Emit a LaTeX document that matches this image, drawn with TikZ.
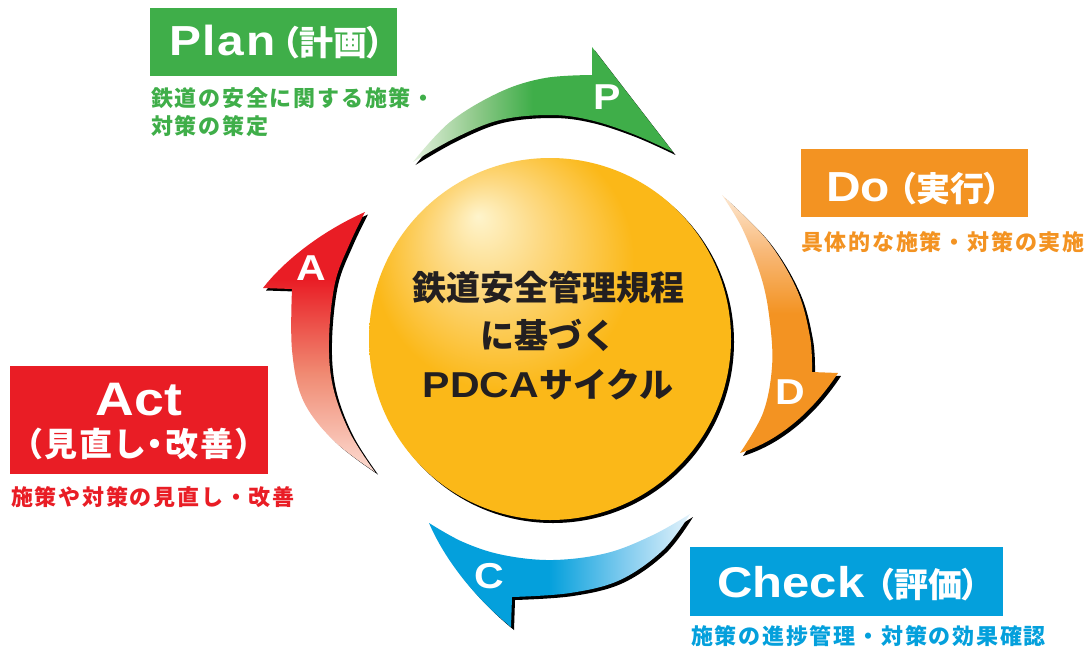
\documentclass[tikz,border=0pt]{standalone}
\usepackage{fontspec}
\newfontfamily\jp{Noto Sans CJK JP}
\newfontfamily\jpp{Noto Sans CJK JP}[RawFeature=+palt]
\newfontfamily\jpls{Noto Sans CJK JP}[LetterSpace=8]
\newfontfamily\lat{Liberation Sans}[FakeStretch=1.14]
\definecolor{pgreen}{HTML}{3FAE49}
\definecolor{porange}{HTML}{F39322}
\definecolor{pred}{HTML}{E91D25}
\definecolor{pblue}{HTML}{04A0DC}
\definecolor{ball}{HTML}{FBB818}
\definecolor{ballhl}{HTML}{FEF4CC}
\definecolor{ballmid}{HTML}{FDDA85}
\definecolor{gl}{HTML}{E4F1DE}
\definecolor{gm}{HTML}{8FC98A}
\definecolor{ol}{HTML}{FDE8D2}
\definecolor{om}{HTML}{F8B877}
\definecolor{bl}{HTML}{E3F2FB}
\definecolor{bm}{HTML}{7DCAEE}
\definecolor{rl}{HTML}{FCDCD2}
\definecolor{rm}{HTML}{F08A72}
\definecolor{dark}{HTML}{231F20}
\pgfdeclarehorizontalshading{gshade}{100bp}{color(0bp)=(gl); color(25bp)=(gl); color(37bp)=(gm); color(48bp)=(pgreen); color(100bp)=(pgreen)}
\pgfdeclareverticalshading{oshade}{100bp}{color(0bp)=(porange); color(52bp)=(porange); color(64bp)=(om); color(75bp)=(ol); color(100bp)=(ol)}
\pgfdeclarehorizontalshading{bshade}{100bp}{color(0bp)=(pblue); color(48bp)=(pblue); color(62bp)=(bm); color(75bp)=(bl); color(100bp)=(bl)}
\pgfdeclareverticalshading{rshade}{100bp}{color(0bp)=(rl); color(25bp)=(rl); color(44bp)=(rm); color(62bp)=(pred); color(100bp)=(pred)}
\pgfdeclareradialshading{ballshade}{\pgfpoint{-10bp}{17bp}}{color(0bp)=(ballhl); color(7bp)=(ballmid); color(18bp)=(ball); color(50bp)=(ball)}
\tikzset{
  greenarrow/.pic={\path[pic actions] (413,162) -- plot[smooth,tension=0.6] coordinates {(413,162) (450,122) (500,92) (545,78) (592,75)} -- (592,47) -- (673,152) -- plot[smooth,tension=0.6] coordinates {(673,152) (633,134) (590,120) (550,115) (500,120) (455,138) (413,162)} -- cycle;},
  orangearrow/.pic={\path[pic actions] (722,195) -- plot[smooth,tension=0.6] coordinates {(722,195) (767,240) (797,290) (810,337) (812,372)} -- (838,373) .. controls (815,408) and (782,440) .. (740,453) -- plot[smooth,tension=0.6] coordinates {(740,453) (763,413) (772,367) (770,323) (762,280) (743,230) (722,195)} -- cycle;},
  bluearrow/.pic={\path[pic actions] (690,514) -- plot[smooth,tension=0.6] coordinates {(690,514) (653,535) (607,553) (553,560) (503,555) (463,542) (429,523)} .. controls (445,560) and (475,598) .. (511,627) -- (512,597) -- plot[smooth,tension=0.6] coordinates {(512,597) (570,593) (620,580) (663,550) (690,514)} -- cycle;},
  redarrow/.pic={\path[pic actions] (375,472) -- plot[smooth,tension=0.6] coordinates {(375,472) (350,433) (333,387) (329,340) (335,283) (350,243) (365,212)} .. controls (320,232) and (283,262) .. (263,288) -- (292,289) -- plot[smooth,tension=0.6] coordinates {(292,289) (292,350) (303,400) (333,440) (375,472)} -- cycle;},
  box/.style={draw=none, inner sep=0pt, anchor=north west},
  letter/.style={text=white, inner sep=0pt, font=\lat\bfseries\fontsize{36}{36}\selectfont},
  ttl/.style={text=white, inner sep=0pt, anchor=base west},
  jttl/.style={text=white, inner sep=0pt, anchor=base west, font=\jpp\bfseries\fontsize{34}{34}\selectfont},
  sub/.style={inner sep=0pt, anchor=base west, font=\jpls\bfseries\fontsize{22}{22}\selectfont},
  ctr/.style={inner sep=0pt, anchor=base, text=dark}
}
\begin{document}
\begin{tikzpicture}[x=1pt,y=-1pt]
\useasboundingbox[fill=white] (0,0) rectangle (1091,651);
% arrows: shadows then fills
\pic[fill=black] at (2.5,3) {greenarrow};
\pic[shade, shading=gshade] at (0,0) {greenarrow};
\pic[fill=black] at (3,3) {orangearrow};
\pic[shade, shading=oshade] at (0,0) {orangearrow};
\pic[fill=black] at (3,3) {bluearrow};
\pic[shade, shading=bshade] at (0,0) {bluearrow};
\pic[fill=black] at (3,2.5) {redarrow};
\pic[shade, shading=rshade] at (0,0) {redarrow};
% ball
\node[circle, fill=black, minimum size=362, inner sep=0pt] (ballshadow) at (553,342) {};
\node[circle, shade, shading=ballshade, minimum size=362, inner sep=0pt] (ball) at (550,339) {};
% letters
\node[letter] (lp) at (607,97) {P};
\node[letter] (ld) at (790,392) {D};
\node[letter] (lc) at (489,576) {C};
\node[letter] (la) at (311,268) {A};
% center text
\node[ctr, font=\jp\bfseries\fontsize{34}{34}\selectfont] (c1) at (548,300) {鉄道安全管理規程};
\node[ctr, font=\jp\bfseries\fontsize{34}{34}\selectfont] (c2) at (548,348) {に基づく};
\node[ctr] (c3) at (548,397) {{\lat\bfseries\fontsize{36}{36}\selectfont PDCA}{\jp\bfseries\fontsize{34}{34}\selectfont サイクル}};
% boxes
\node[box, fill=pgreen, minimum width=247, minimum height=68] (planbox) at (150,8) {};
\node[box, fill=porange, minimum width=227, minimum height=68] (dobox) at (801,149) {};
\node[box, fill=pblue, minimum width=313, minimum height=69] (checkbox) at (690,547) {};
\node[box, fill=pred, minimum width=258, minimum height=108] (actbox) at (10,366) {};
% titles
\node[ttl] (plant) at (169,55) {\lat\bfseries\fontsize{42}{42}\selectfont\addfontfeature{LetterSpace=4}Plan};
\node[jttl] (plantj) at (282,55) {（計画）};
\node[ttl] (dot) at (826,201) {\lat\bfseries\fontsize{42}{42}\selectfont Do};
\node[jttl] (dotj) at (899,201) {（実行）};
\node[ttl] (checkt) at (717,597) {\lat\bfseries\fontsize{43}{43}\selectfont Check};
\node[jttl] (checktj) at (877,597) {（評価）};
\node[ttl, anchor=base] (actt) at (139,415) {\lat\bfseries\fontsize{47}{47}\selectfont Act};
\node[ttl, anchor=base] (actt2) at (139,456) {\jpp\bfseries\fontsize{33}{33}\selectfont\addfontfeature{LetterSpace=7}（見直し・改善）};
% subtexts
\node[sub, text=pgreen] (plans1) at (151,106) {鉄道の安全に関する施策・};
\node[sub, text=pgreen] (plans2) at (151,134) {対策の策定};
\node[sub, text=porange] (dos) at (801,250) {具体的な施策・対策の実施};
\node[sub, text=pblue] (checks) at (691,644) {施策の進捗管理・対策の効果確認};
\node[sub, text=pred] (acts) at (11,505) {施策や対策の見直し・改善};
\end{tikzpicture}
\end{document}
